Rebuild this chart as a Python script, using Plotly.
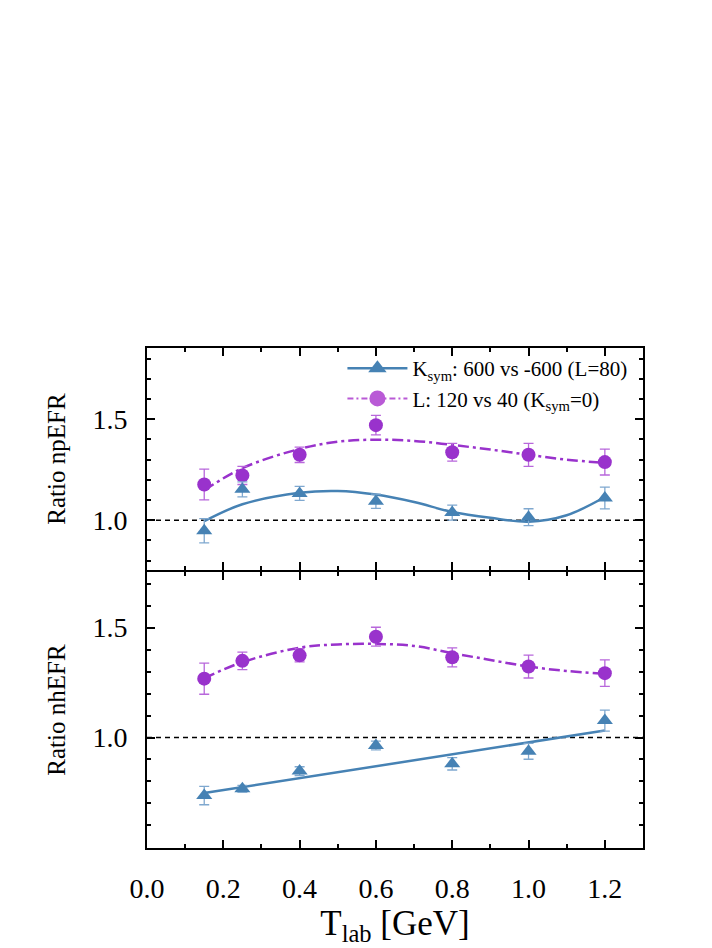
import plotly.graph_objects as go
from plotly.subplots import make_subplots

# ---------------- data ----------------
t_lab = [0.15, 0.25, 0.4, 0.6, 0.8, 1.0, 1.2]

np_ksym = [0.948, 1.153, 1.133, 1.094, 1.038, 1.015, 1.110]
np_ksym_err = [0.060, 0.037, 0.035, 0.035, 0.037, 0.042, 0.054]
np_L = [1.177, 1.222, 1.324, 1.471, 1.337, 1.324, 1.288]
np_L_err = [0.076, 0.045, 0.038, 0.048, 0.044, 0.057, 0.064]

nh_ksym = [0.736, 0.767, 0.847, 0.964, 0.880, 0.937, 1.077]
nh_ksym_err = [0.042, 0.015, 0.020, 0.020, 0.028, 0.036, 0.048]
nh_L = [1.268, 1.349, 1.374, 1.459, 1.365, 1.323, 1.293]
nh_L_err = [0.071, 0.040, 0.030, 0.043, 0.043, 0.052, 0.060]

fit_x = [0.15, 0.25, 0.4, 0.5, 0.6, 0.7, 0.8, 0.9, 1.0, 1.1, 1.2]
np_ksym_fit = [0.995, 1.079, 1.136, 1.145, 1.127, 1.090, 1.041, 1.012, 0.993, 1.025, 1.115]
np_L_fit = [1.148, 1.258, 1.353, 1.389, 1.399, 1.393, 1.373, 1.350, 1.324, 1.300, 1.284]
nh_L_fit = [1.270, 1.343, 1.409, 1.424, 1.426, 1.417, 1.384, 1.353, 1.323, 1.303, 1.290]
lin_x = [0.15, 1.2]
nh_ksym_fit = [0.747, 1.032]

x_ticks = [0.0, 0.2, 0.4, 0.6, 0.8, 1.0, 1.2]
x_ticktext = ["0.0", "0.2", "0.4", "0.6", "0.8", "1.0", "1.2"]
y_ticks = [1.0, 1.5]
y_ticktext = ["1.0", "1.5"]

name_ksym = "K<sub>sym</sub>: 600 vs -600 (L=80)"
name_L = "L: 120 vs 40 (K<sub>sym</sub>=0)"

# ---------------- style ----------------
BLUE = "#4682B4"
BLUE_ERR = "#7FA8CF"
PURPLE = "#9932CC"
PURPLE_ERR = "#B867DB"
PURPLE_LEG = "#B95AD6"
FONT = "Liberation Serif, Times New Roman, serif"
DASHDOT = "11px,4px,3px,4px"

fig = make_subplots(rows=2, cols=1, shared_xaxes=True, vertical_spacing=0.004,
                    row_heights=[223, 277])

panels = [
    (1, np_ksym, np_ksym_err, np_L, np_L_err, fit_x, np_ksym_fit, np_L_fit),
    (2, nh_ksym, nh_ksym_err, nh_L, nh_L_err, lin_x, nh_ksym_fit, nh_L_fit),
]

for row, ks, kse, L, Le, kfx, kfit, Lfit in panels:
    fig.add_trace(go.Scatter(x=[0.0, 1.3], y=[1.0, 1.0], mode="lines",
                             line=dict(color="black", width=1.5, dash="5px,4px"),
                             showlegend=False, hoverinfo="skip"), row=row, col=1)
    fig.add_trace(go.Scatter(x=kfx, y=kfit, mode="lines",
                             line=dict(color=BLUE, width=2.5,
                                       shape="spline" if len(kfx) > 2 else "linear"),
                             showlegend=False), row=row, col=1)
    fig.add_trace(go.Scatter(x=fit_x, y=Lfit, mode="lines",
                             line=dict(color=PURPLE, width=2.5, dash=DASHDOT, shape="spline"),
                             showlegend=False), row=row, col=1)
    fig.add_trace(go.Scatter(x=t_lab, y=L, mode="markers",
                             marker=dict(symbol="circle", size=14, color=PURPLE),
                             error_y=dict(type="data", array=Le, color=PURPLE_ERR,
                                          thickness=1.3, width=5),
                             showlegend=False), row=row, col=1)
    fig.add_trace(go.Scatter(x=t_lab, y=ks, mode="markers",
                             marker=dict(symbol="triangle-up", size=14, color=BLUE),
                             error_y=dict(type="data", array=kse, color=BLUE_ERR,
                                          thickness=1.3, width=5),
                             showlegend=False), row=row, col=1)

fig.add_trace(go.Scatter(x=[None], y=[None], mode="lines+markers", name=name_ksym,
                         line=dict(color=BLUE, width=2.5),
                         marker=dict(symbol="triangle-up", size=18, color=BLUE)), row=1, col=1)
fig.add_trace(go.Scatter(x=[None], y=[None], mode="lines+markers", name=name_L,
                         line=dict(color=PURPLE_LEG, width=2, dash="6px,3px,2px,3px"),
                         marker=dict(symbol="circle", size=18, color=PURPLE_LEG)), row=1, col=1)

axis_common = dict(
    showline=True, linecolor="black", linewidth=2, mirror="allticks",
    ticks="inside", ticklen=8, tickwidth=2, tickcolor="black",
    showgrid=False, zeroline=False,
    tickfont=dict(family=FONT, size=28, color="black"),
)

fig.update_xaxes(range=[0, 1.3], tickvals=x_ticks, ticktext=x_ticktext,
                 minor=dict(ticks="inside", ticklen=4, tickwidth=1.5, tickcolor="black", dtick=0.1, tick0=0),
                 **axis_common)
fig.update_xaxes(showticklabels=False, row=1, col=1)
fig.update_xaxes(ticklabelstandoff=14,
                 title=dict(text="T<sub>lab</sub> [GeV]", font=dict(family=FONT, size=35, color="black"),
                            standoff=6),
                 row=2, col=1)

fig.update_yaxes(tickvals=y_ticks, ticktext=y_ticktext, ticklabelstandoff=12,
                 minor=dict(ticks="inside", ticklen=4, tickwidth=1.5, tickcolor="black", dtick=0.1, tick0=0),
                 **axis_common)
fig.update_yaxes(range=[0.753, 1.853],
                 title=dict(text="Ratio npEFR", font=dict(family=FONT, size=25, color="black"), standoff=20),
                 row=1, col=1)
fig.update_yaxes(range=[0.497, 1.753],
                 title=dict(text="Ratio nhEFR", font=dict(family=FONT, size=25, color="black"), standoff=20),
                 row=2, col=1)

fig.update_layout(
    width=712, height=948,
    margin=dict(l=139, r=77, t=340, b=108),
    paper_bgcolor="white", plot_bgcolor="white",
    font=dict(family=FONT, color="black"),
    legend=dict(x=0.394, y=1.0, xanchor="left", yanchor="top",
                bgcolor="rgba(0,0,0,0)", borderwidth=0,
                font=dict(family=FONT, size=21, color="black"),
                tracegroupgap=0, itemsizing="trace", itemwidth=60),
)

fig.write_html("out.html")
